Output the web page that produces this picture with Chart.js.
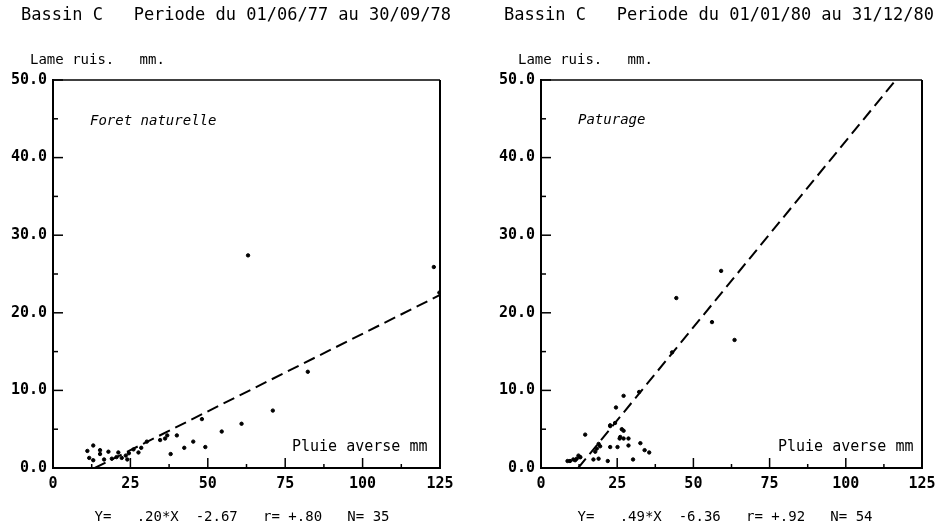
<!DOCTYPE html>
<html>
<head>
<meta charset="utf-8">
<title>Bassin C</title>
<script src="https://cdn.jsdelivr.net/npm/chart.js@4.4.1/dist/chart.umd.min.js"></script>
<style>
  html, body { margin: 0; padding: 0; background: #fff; }
  #wrap { position: relative; width: 946px; height: 526px; }
  .panel { position: absolute; top: 0; width: 473px; height: 526px; }
  #p1 { left: 0; }
  #p2 { left: 473px; }
</style>
</head>
<body>
<div id="wrap">
  <div class="panel" id="p1"><canvas id="chartLeft" width="473" height="526"></canvas></div>
  <div class="panel" id="p2"><canvas id="chartRight" width="473" height="526"></canvas></div>
</div>
<script>
// ================================ data ==============================
// Foret naturelle, 01/06/77 - 30/09/78
var leftX = [11.1, 13.0, 11.7, 13.0, 15.2, 15.2, 16.5, 17.9, 19.0, 20.5, 21.1, 22.2, 23.5, 24.0, 24.5,
  26.0, 27.6, 28.5, 30.3, 34.6, 36.2, 36.9, 38.0, 40.0, 42.4, 45.3, 48.1, 49.2, 54.5, 60.9,
  63.0, 71.0, 82.3, 123.0, 124.8];
var leftY = [2.2, 2.9, 1.3, 1.0, 2.3, 1.8, 1.1, 2.1, 1.2, 1.4, 2.0, 1.3, 1.6, 1.1, 1.9,
  2.4, 2.0, 2.6, 3.4, 3.6, 3.8, 4.2, 1.8, 4.2, 2.6, 3.4, 6.3, 2.7, 4.7, 5.7,
  27.4, 7.4, 12.4, 25.9, 22.6];
// regression line ends as read on the plot
var leftFitX = [13.5, 125];
var leftFitY = [0, 22.3];

// Paturage, 01/01/80 - 31/12/80
var rightX = [8.7, 9.5, 10.6, 11.2, 11.7, 12.3, 12.8, 12.9, 14.5, 17.2, 17.8, 18.3, 18.9, 18.9, 19.4,
  21.9, 22.7, 22.7, 22.7, 24.3, 24.6, 25.1, 25.8, 26.0, 26.5, 27.1, 27.1, 27.1, 28.7, 28.7,
  30.2, 32.2, 32.6, 34.0, 35.5, 43.0, 44.4, 56.1, 59.1, 63.5];
var rightY = [0.9, 0.9, 1.1, 1.0, 1.2, 1.6, 1.4, 1.4, 4.3, 1.1, 2.1, 2.5, 3.1, 1.2, 2.8,
  0.9, 5.5, 5.4, 2.7, 5.8, 7.8, 2.7, 3.8, 4.0, 5.0, 9.3, 4.8, 3.8, 3.8, 2.9,
  1.1, 9.8, 3.2, 2.3, 2.0, 14.9, 21.9, 18.8, 25.4, 16.5];
var rightFitX = [12.2, 116.4];
var rightFitY = [0, 50];

// axes
var xMin = 0, xMax = 125, xStep = 12.5, xMajor = 25;
var yMin = 0, yMax = 50, yStep = 5, yMajor = 10;

var monoFont = "'DejaVu Sans Mono', 'Liberation Mono', monospace";

function toPoints(xs, ys) {
  return xs.map(function (x, i) { return { x: x, y: ys[i] }; });
}

// ================================ plotter decorations ==============================
// frame on top/right, inward tick marks and the free texts
var plotterPlugin = {
  id: "plotter",
  afterDraw: function (chart, args, opts) {
    var ctx = chart.ctx;
    var area = chart.chartArea;
    var xs = chart.scales.x, ys = chart.scales.y;
    ctx.save();
    ctx.strokeStyle = "#000";
    // frame
    ctx.lineWidth = 1.5;
    ctx.beginPath();
    ctx.moveTo(area.left, area.top);
    ctx.lineTo(area.right, area.top);
    ctx.stroke();
    ctx.lineWidth = 2;
    ctx.beginPath();
    ctx.moveTo(area.right, area.top);
    ctx.lineTo(area.right, area.bottom);
    ctx.stroke();

    // tick marks pointing inside
    ctx.lineWidth = 1.5;
    xs.ticks.forEach(function (t) {
      if (t.value === xMin || t.value === xMax) return;
      var px = xs.getPixelForValue(t.value);
      var len = t.value % xMajor === 0 ? 10 : 4;
      ctx.beginPath();
      ctx.moveTo(px, area.bottom);
      ctx.lineTo(px, area.bottom - len);
      ctx.stroke();
    });
    ys.ticks.forEach(function (t) {
      if (t.value === yMin) return;
      var py = ys.getPixelForValue(t.value);
      var len = t.value % yMajor === 0 ? 10 : 5;
      ctx.beginPath();
      ctx.moveTo(area.left, py);
      ctx.lineTo(area.left + len, py);
      ctx.stroke();
    });

    // texts
    ctx.fillStyle = "#000";
    ctx.textBaseline = "middle";
    (opts.texts || []).forEach(function (t) {
      ctx.font = t.font;
      ctx.textAlign = t.align || "left";
      ctx.fillText(t.text, t.x, t.y);
    });
    ctx.restore();
  },
};

function makePanel(canvasId, xs, ys, fitX, fitY, yAxisWidth, rightPad, texts) {
  var ctx = document.getElementById(canvasId).getContext("2d");
  return new Chart(ctx, {
    type: "scatter",
    data: {
      datasets: [
        {
          label: "points",
          data: toPoints(xs, ys),
          backgroundColor: "#000",
          borderColor: "#000",
          pointRadius: 1.7,
          pointHoverRadius: 1.7,
        },
        {
          label: "fit",
          data: toPoints(fitX, fitY),
          showLine: true,
          borderColor: "#000",
          borderWidth: 2,
          borderDash: [12, 6],
          pointRadius: 0,
          fill: false,
        },
      ],
    },
    options: {
      responsive: false,
      animation: false,
      layout: { padding: { left: 0, top: 80, right: rightPad, bottom: 0 } },
      plugins: {
        legend: { display: false },
        tooltip: { enabled: false },
        plotter: { texts: texts },
      },
      scales: {
        x: {
          type: "linear",
          min: xMin,
          max: xMax,
          afterFit: function (scale) { scale.height = 58; },
          grid: { display: false, drawTicks: false },
          border: { display: true, color: "#000", width: 2 },
          ticks: {
            stepSize: xStep,
            autoSkip: false,
            maxRotation: 0,
            padding: 7,
            color: "#000",
            font: { family: monoFont, size: 15, weight: "bold" },
            callback: function (v) { return v % xMajor === 0 ? String(v) : ""; },
          },
        },
        y: {
          type: "linear",
          min: yMin,
          max: yMax,
          afterFit: function (scale) { scale.width = yAxisWidth; },
          grid: { display: false, drawTicks: false },
          border: { display: true, color: "#000", width: 2 },
          ticks: {
            stepSize: yStep,
            autoSkip: false,
            padding: 6,
            color: "#000",
            font: { family: monoFont, size: 15, weight: "bold" },
            callback: function (v) { return v % yMajor === 0 ? v.toFixed(1) : ""; },
          },
        },
      },
    },
    plugins: [plotterPlugin],
  });
}

var titleFont = "17px " + monoFont;
var smallFont = "14px " + monoFont;
var noteFont = "15px " + monoFont;
var italicFont = "oblique 14px " + monoFont;

// ================================ left panel ==============================
var chartLeft = makePanel("chartLeft", leftX, leftY, leftFitX, leftFitY, 53, 33, [
  { text: "Bassin C   Periode du 01/06/77 au 30/09/78", x: 236, y: 16, align: "center", font: titleFont },
  { text: "Lame ruis.   mm.", x: 30, y: 60, font: smallFont },
  { text: "Foret naturelle", x: 90, y: 121, font: italicFont },
  { text: "Pluie averse mm", x: 292, y: 447, font: noteFont },
  { text: "Y=   .20*X  -2.67   r= +.80   N= 35", x: 242, y: 517, align: "center", font: smallFont },
]);

// ================================ right panel ==============================
var chartRight = makePanel("chartRight", rightX, rightY, rightFitX, rightFitY, 68, 24, [
  { text: "Bassin C   Periode du 01/01/80 au 31/12/80", x: 246, y: 16, align: "center", font: titleFont },
  { text: "Lame ruis.   mm.", x: 45, y: 60, font: smallFont },
  { text: "Paturage", x: 105, y: 120, font: italicFont },
  { text: "Pluie averse mm", x: 305, y: 447, font: noteFont },
  { text: "Y=   .49*X  -6.36   r= +.92   N= 54", x: 252, y: 517, align: "center", font: smallFont },
]);
</script>
</body>
</html>
